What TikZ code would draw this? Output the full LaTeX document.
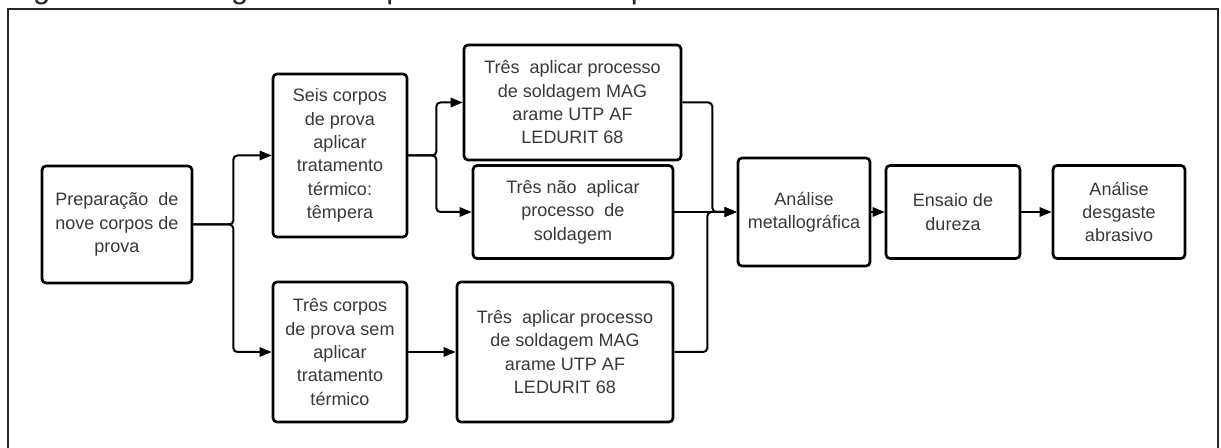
\documentclass[tikz,border=0pt]{standalone}
\usepackage{fontspec}
\setmainfont{Liberation Sans}
\usetikzlibrary{arrows.meta}
\begin{document}
\begin{tikzpicture}[x=0.75pt,y=-0.75pt,
    etapa/.style={draw,line width=2pt,rounded corners=3pt,align=center,inner sep=0pt,
        text=black!78,font=\fontsize{13.5}{17.5}\selectfont},
    fluxo/.style={line width=1.5pt,rounded corners=3pt,-{Triangle[length=9pt,width=7pt]}}]
                \useasboundingbox (0,0) rectangle (1221,448);
                \clip (0,0) rectangle (1221,448);
                % titulo cortado no topo
                \node[anchor=base west,inner sep=0pt,text=black!85,font=\fontsize{23.25}{28}\selectfont] (titulo) at (7,-1) {Figura 3 – Fluxograma dos procedimentos experimentais};
                \draw[line width=1.5pt,black!85] (8,9) rectangle (1218,470);
                % etapas
                \node[etapa,minimum width=112.5pt,minimum height=87.75pt] (prep) at (117,224.5) {Preparação\ \ de\\nove corpos de\\prova};
                \node[etapa,minimum width=100.5pt,minimum height=122.25pt] (seis) at (340,155.5) {Seis corpos\\de prova\\aplicar\\tratamento\\térmico:\\têmpera};
                \node[etapa,minimum width=100.5pt,minimum height=105pt] (tres) at (340,352) {Três corpos\\de prova sem\\aplicar\\tratamento\\térmico};
                \node[etapa,minimum width=162.75pt,minimum height=86.25pt] (soldA) at (572.5,102.5) {Três\ \ aplicar processo\\de soldagem MAG\\arame UTP AF\\LEDURIT 68};
                \node[etapa,minimum width=150pt,minimum height=69.75pt] (naosold) at (573,212) {Três não\ \ aplicar\\processo\ \ de\\soldagem};
                \node[etapa,minimum width=162pt,minimum height=105pt] (soldB) at (565,352) {Três\ \ aplicar processo\\de soldagem MAG\\arame UTP AF\\LEDURIT 68};
                \node[etapa,minimum width=99pt,minimum height=81pt] (metal) at (804,212) {Análise\\metallográfica};
                \node[etapa,minimum width=100.5pt,minimum height=69.75pt] (dureza) at (953,212) {Ensaio de\\dureza};
                \node[etapa,minimum width=99pt,minimum height=69.75pt] (desgaste) at (1119,212) {Análise\\desgaste\\abrasivo};
                % ligacoes
                \draw[fluxo] (prep.east) -- ++(40,0) |- (seis.west);
                \draw[fluxo] (prep.east) -- ++(40,0) |- (tres.west);
                \draw[fluxo] (seis.east) -- ++(28,0) |- (soldA.west);
                \draw[fluxo] (seis.east) -- ++(28,0) |- (naosold.west);
                \draw[fluxo] (tres.east) -- (soldB.west);
                \draw[fluxo] (soldA.east) -- ++(30,0) |- (metal.west);
                \draw[fluxo] (naosold.east) -- (metal.west);
                \draw[fluxo] (soldB.east) -- ++(33,0) |- (metal.west);
                \draw[fluxo] (metal.east) -- (dureza.west);
                \draw[fluxo] (dureza.east) -- (desgaste.west);
\end{tikzpicture}
\end{document}
